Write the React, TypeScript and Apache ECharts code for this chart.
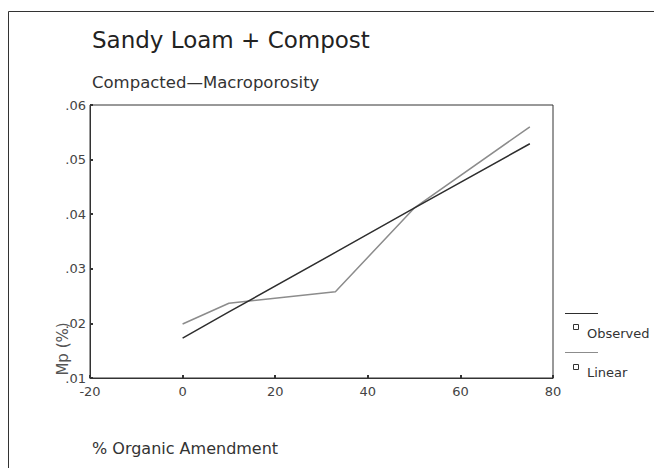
import React, { useEffect, useRef } from "react";
import * as echarts from "echarts";

const titleText = "Sandy Loam + Compost";
const subtitleText = "Compacted\u2014Macroporosity";
const xAxisTitle = "% Organic Amendment";
const yAxisTitle = "Mp (%)";

const xValues = [0, 10, 33, 50, 75];
// dark straight line (labelled "Observed" in the legend)
const observedValues = [0.0173, 0.0221, 0.033, 0.0411, 0.0529];
// grey bent line (labelled "Linear" in the legend)
const linearValues = [0.0199, 0.0237, 0.0258, 0.0411, 0.056];

const xMin = -20;
const xMax = 80;
const xStep = 20;
const yMin = 0.01;
const yMax = 0.06;
const yStep = 0.01;

const legendLabels = ["Observed", "Linear"];

const FONT = "DejaVu Sans";
const DARK = "#2e2e2e";
const GREY = "#8c8c8c";

export default function App() {
  const ref = useRef<HTMLDivElement>(null);

  useEffect(() => {
    document.body.style.margin = "0";
    if (!ref.current) return;
    const chart = echarts.init(ref.current, null, { renderer: "svg" });

    const option: any = {
      animation: false,
      backgroundColor: "#ffffff",
      textStyle: { fontFamily: FONT },
      grid: {
        left: 90,
        right: 101,
        top: 105,
        bottom: 90,
        show: true,
        borderColor: "#333",
        borderWidth: 1,
        backgroundColor: "transparent",
      },
      xAxis: {
        type: "value",
        min: xMin,
        max: xMax,
        interval: xStep,
        axisLine: { show: true, onZero: false, lineStyle: { color: "#333", width: 1 } },
        axisTick: { show: true, inside: true, length: 3, lineStyle: { color: "#333", width: 2 } },
        axisLabel: { color: "#444", fontSize: 13, margin: 7, fontFamily: FONT },
        splitLine: { show: false },
      },
      yAxis: {
        type: "value",
        min: yMin,
        max: yMax,
        interval: yStep,
        axisLine: { show: true, onZero: false, lineStyle: { color: "#333", width: 1 } },
        axisTick: { show: true, inside: true, length: 3, lineStyle: { color: "#333", width: 2 } },
        axisLabel: {
          color: "#444",
          fontSize: 13,
          margin: 4,
          fontFamily: FONT,
          formatter: (v: number) => v.toFixed(2).replace(/^0/, ""),
        },
        splitLine: { show: false },
      },
      series: [
        {
          name: legendLabels[0],
          type: "line",
          data: xValues.map((x, i) => [x, observedValues[i]]),
          showSymbol: false,
          lineStyle: { color: DARK, width: 1.5 },
          z: 3,
        },
        {
          name: legendLabels[1],
          type: "line",
          data: xValues.map((x, i) => [x, linearValues[i]]),
          showSymbol: false,
          lineStyle: { color: GREY, width: 1.5 },
          z: 2,
        },
      ],
      graphic: [
        {
          type: "rect",
          shape: { x: 8.5, y: 11.5, width: 700, height: 500 },
          style: { fill: "none", stroke: "#333", lineWidth: 1 },
          silent: true,
        },
        {
          type: "text",
          x: 92,
          y: 40,
          style: { text: titleText, font: `23px "${FONT}"`, fill: "#222", textVerticalAlign: "middle" },
        },
        {
          type: "text",
          x: 92,
          y: 82,
          style: { text: subtitleText, font: `16.5px "${FONT}"`, fill: "#333", textVerticalAlign: "middle" },
        },
        {
          type: "text",
          x: 92,
          y: 448,
          style: { text: xAxisTitle, font: `16px "${FONT}"`, fill: "#333", textVerticalAlign: "middle" },
        },
        {
          type: "text",
          x: 63,
          y: 349,
          rotation: Math.PI / 2,
          style: {
            text: yAxisTitle,
            font: `15px "${FONT}"`,
            fill: "#555",
            textAlign: "center",
            textVerticalAlign: "middle",
          },
        },
        // legend
        {
          type: "line",
          shape: { x1: 565, y1: 313.5, x2: 598, y2: 313.5 },
          style: { stroke: DARK, lineWidth: 1.2 },
        },
        {
          type: "rect",
          shape: { x: 573.5, y: 324.5, width: 5, height: 5 },
          style: { fill: "none", stroke: "#333", lineWidth: 1 },
        },
        {
          type: "text",
          x: 587,
          y: 333,
          style: { text: legendLabels[0], font: `13px "${FONT}"`, fill: "#333", textVerticalAlign: "middle" },
        },
        {
          type: "line",
          shape: { x1: 565, y1: 352.5, x2: 598, y2: 352.5 },
          style: { stroke: GREY, lineWidth: 1.2 },
        },
        {
          type: "rect",
          shape: { x: 573.5, y: 364.5, width: 5, height: 5 },
          style: { fill: "none", stroke: "#333", lineWidth: 1 },
        },
        {
          type: "text",
          x: 587,
          y: 372,
          style: { text: legendLabels[1], font: `13px "${FONT}"`, fill: "#333", textVerticalAlign: "middle" },
        },
      ],
    };

    chart.setOption(option);
    return () => chart.dispose();
  }, []);

  return <div ref={ref} style={{ width: 654, height: 468 }} />;
}
